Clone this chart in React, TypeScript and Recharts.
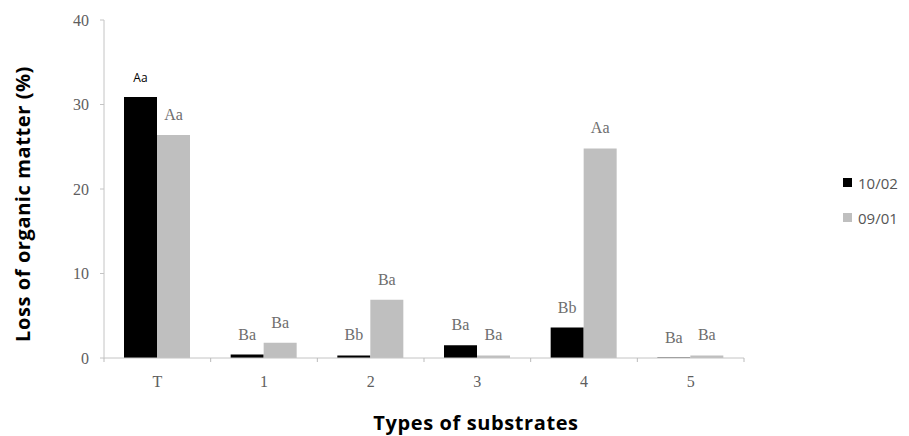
import { BarChart, Bar, XAxis, YAxis, Legend, LabelList, Label } from 'recharts';

const substrates = ['T', '1', '2', '3', '4', '5'];
const loss1002 = [30.9, 0.4, 0.3, 1.5, 3.6, 0.05];
const loss0901 = [26.4, 1.8, 6.9, 0.3, 24.8, 0.3];
const letters1002 = ['Aa', 'Ba', 'Bb', 'Ba', 'Bb', 'Ba'];
const letters0901 = ['Aa', 'Ba', 'Ba', 'Ba', 'Aa', 'Ba'];
const yTicks = [0, 10, 20, 30, 40];
const series = [
  { key: 'd1002', name: '10/02', color: '#000000' },
  { key: 'd0901', name: '09/01', color: '#bfbfbf' },
];

const data = substrates.map((name, i) => ({
  name,
  d1002: loss1002[i],
  d0901: loss0901[i],
  l1002: letters1002[i],
  l0901: letters0901[i],
}));

const SERIF = '"Liberation Serif", "DejaVu Serif", serif';
const SANS = '"Open Sans", "Liberation Sans", sans-serif';

const makeLetter = (key: 'l1002' | 'l0901') => (props: any) => {
  const { x, y, width, index } = props;
  const text = data[index][key];
  // the first label in the source was typed in a different font
  const odd = key === 'l1002' && index === 0;
  return (
    <text
      x={x + width / 2}
      y={y - 15}
      textAnchor="middle"
      fontFamily={odd ? SANS : SERIF}
      fontSize={odd ? 12 : 16}
      fill={odd ? '#000' : '#6e6e6e'}
    >
      {text}
    </text>
  );
};

const XTick = (props: any) => {
  const { x, y, payload, width, visibleTicksCount } = props;
  const band = width / visibleTicksCount;
  return (
    <g>
      <line x1={x + band / 2} y1={y - 8} x2={x + band / 2} y2={y - 4} stroke="#bbb" />
      {payload.index === 0 && (
        <line x1={x - band / 2} y1={y - 8} x2={x - band / 2} y2={y - 4} stroke="#bbb" />
      )}
      <text x={x} y={y + 21} textAnchor="middle" fontFamily={SERIF} fontSize={16} fill="#5e5e5e">
        {payload.value}
      </text>
    </g>
  );
};

const LegendBox = () => (
  <div style={{ fontFamily: SANS, fontSize: 15, color: '#555' }}>
    {series.map((s) => (
      <div key={s.name} style={{ display: 'flex', alignItems: 'center', height: 35 }}>
        <span style={{ width: 9, height: 9, background: s.color, marginRight: 6 }} />
        {s.name}
      </div>
    ))}
  </div>
);

export default function App() {
  return (
    <div style={{ position: 'absolute', left: 0, top: 0, background: '#fff' }}>
      <BarChart
        width={909}
        height={436}
        data={data}
        margin={{ top: 20, right: 99, bottom: 0, left: 0 }}
        barGap={0}
        barSize={33}
      >
        <XAxis
          dataKey="name"
          height={78}
          stroke="#c4c4c4"
          tickLine={false}
          tick={<XTick />}
          interval={0}
        >
          <Label
            value="Types of substrates"
            position="insideBottom"
            offset={6}
            dx={52}
            style={{ fontFamily: SANS, fontSize: 20, fontWeight: 700, fill: '#000', letterSpacing: 0.6 }}
          />
        </XAxis>
        <YAxis
          width={104}
          domain={[0, 40]}
          ticks={yTicks}
          stroke="#c4c4c4"
          tickSize={4}
          tickMargin={11}
          tick={{ fontFamily: SERIF, fontSize: 16, fill: '#5e5e5e' }}
        >
          <Label
            value="Loss of organic matter (%)"
            angle={-90}
            position="center"
            dx={-29}
            dy={15}
            style={{ fontFamily: SANS, fontSize: 20, fontWeight: 700, fill: '#000', textAnchor: 'middle', letterSpacing: 0.6 }}
          />
        </YAxis>
        <Legend
          layout="vertical"
          align="right"
          verticalAlign="top"
          content={<LegendBox />}
          wrapperStyle={{ left: 843, top: 165, width: 66 }}
        />
        {series.map((s) => (
          <Bar key={s.key} dataKey={s.key} name={s.name} fill={s.color} isAnimationActive={false}>
            <LabelList
              dataKey={s.key === 'd1002' ? 'l1002' : 'l0901'}
              content={makeLetter(s.key === 'd1002' ? 'l1002' : 'l0901')}
            />
          </Bar>
        ))}
      </BarChart>
    </div>
  );
}
